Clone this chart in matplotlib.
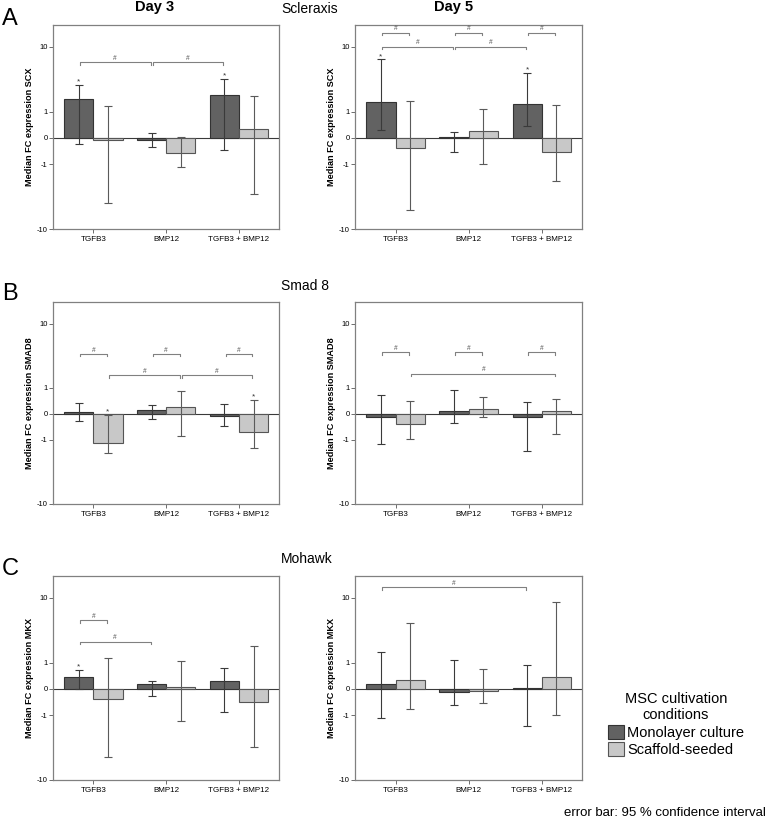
import numpy as np
import matplotlib
matplotlib.use('Agg')
import matplotlib.pyplot as plt
from matplotlib.patches import Patch

plt.rcParams['font.family'] = ['Liberation Sans', 'DejaVu Sans']

groups = ['TGFB3', 'BMP12', 'TGFB3 + BMP12']
series = ['Monolayer culture', 'Scaffold-seeded']
yticks = [-10, -1, 0, 1, 10]
ytick_labels = ['-10', '-1', '0', '1', '10']

# ---- Scleraxis (SCX) ----
scx_d3_mono = [1.8, -0.06, 2.06]
scx_d3_mono_ci = [(-0.18, 3.07), (-0.26, 0.14), (-0.39, 3.7)]
scx_d3_scaf = [-0.055, -0.48, 0.27]
scx_d3_scaf_ci = [(-4.6, 1.33), (-1.13, 0.02), (-3.41, 1.98)]
scx_d5_mono = [1.55, 0.01, 1.44]
scx_d5_mono_ci = [(0.24, 6.9), (-0.45, 0.16), (0.36, 4.57)]
scx_d5_scaf = [-0.30, 0.20, -0.46]
scx_d5_scaf_ci = [(-5.67, 1.66), (-0.99, 1.13), (-2.08, 1.38)]

# ---- Smad 8 (SMAD8) ----
smad8_d3_mono = [0.054, 0.11, -0.06]
smad8_d3_mono_ci = [(-0.22, 0.34), (-0.16, 0.27), (-0.40, 0.28)]
smad8_d3_scaf = [-1.15, 0.20, -0.62]
smad8_d3_scaf_ci = [(-1.86, -0.02), (-0.82, 0.81), (-1.48, 0.46)]
smad8_d5_mono = [-0.08, 0.07, -0.08]
smad8_d5_mono_ci = [(-1.25, 0.64), (-0.27, 0.89), (-1.69, 0.36)]
smad8_d5_scaf = [-0.30, 0.14, 0.08]
smad8_d5_scaf_ci = [(-0.94, 0.41), (-0.08, 0.55), (-0.70, 0.49)]

# ---- Mohawk (MKX) ----
mkx_d3_mono = [0.38, 0.14, 0.24]
mkx_d3_mono_ci = [(0.0, 0.64), (-0.22, 0.23), (-0.84, 0.73)]
mkx_d3_scaf = [-0.31, 0.06, -0.42]
mkx_d3_scaf_ci = [(-4.98, 1.25), (-1.35, 1.1), (-3.56, 2.08)]
mkx_d5_mono = [0.14, -0.08, 0.02]
mkx_d5_mono_ci = [(-1.14, 1.61), (-0.53, 1.14), (-1.66, 0.86)]
mkx_d5_scaf = [0.25, -0.06, 0.37]
mkx_d5_scaf_ci = [(-0.70, 4.62), (-0.46, 0.70), (-0.97, 8.74)]

# significance markers: (series, group)
scx_d3_stars = [(0, 0), (0, 2)]
scx_d5_stars = [(0, 0), (0, 2)]
smad8_d3_stars = [(1, 0), (1, 2)]
smad8_d5_stars = []
mkx_d3_stars = [(0, 0)]
mkx_d5_stars = []

# brackets: (series a, group a, series b, group b, height)
scx_d3_brackets = [(0, 0, 0, 1, 6.3), (0, 1, 0, 2, 6.3)]
scx_d5_brackets = [(0, 0, 1, 0, 15), (0, 1, 1, 1, 15), (0, 2, 1, 2, 15),
                   (0, 0, 0, 1, 10), (0, 1, 0, 2, 10)]
smad8_d3_brackets = [(0, 0, 1, 0, 3.9), (0, 1, 1, 1, 3.9), (0, 2, 1, 2, 3.9),
                     (1, 0, 1, 1, 1.78), (1, 1, 1, 2, 1.78)]
smad8_d5_brackets = [(0, 0, 1, 0, 4.1), (0, 1, 1, 1, 4.1), (0, 2, 1, 2, 4.1),
                     (1, 0, 1, 2, 1.9)]
mkx_d3_brackets = [(0, 0, 1, 0, 5.1), (0, 0, 0, 1, 2.45)]
mkx_d5_brackets = [(0, 0, 0, 2, 13.5)]


def fwd(v):
    v = np.asarray(v, dtype=float)
    return np.sign(v) * np.log10(1 + np.abs(v))


def inv(v):
    v = np.asarray(v, dtype=float)
    return np.sign(v) * (10 ** np.abs(v) - 1)


W, H = 768, 819
fig = plt.figure(figsize=(W / 100, H / 100), dpi=100)

MONO_C, SCAF_C = '#626262', '#c8c8c8'
GRAY = '#808080'
bw = 0.4
offs = [-0.2, 0.2]


def px_axes(x0, y0, x1, y1):
    return fig.add_axes([x0 / W, 1 - y1 / H, (x1 - x0) / W, (y1 - y0) / H])


def panel(ax, mono, mono_ci, scaf, scaf_ci, stars, brackets, ylabel):
    ax.set_yscale('function', functions=(fwd, inv))
    x = np.arange(len(groups))
    vals = [mono, scaf]
    cis = [mono_ci, scaf_ci]
    colors = [MONO_C, SCAF_C]
    edges = ['#333333', '#555555']
    ecols = ['#3a3a3a', '#5a5a5a']
    for s in range(2):
        v = np.array(vals[s])
        lo = np.array([c[0] for c in cis[s]])
        hi = np.array([c[1] for c in cis[s]])
        xs = x + offs[s]
        ax.bar(xs, v, width=bw, color=colors[s], edgecolor=edges[s],
               linewidth=0.8, zorder=2)
        ax.errorbar(xs, v, yerr=[v - lo, hi - v], fmt='none', ecolor=ecols[s],
                    elinewidth=0.8, capsize=2.6, capthick=0.8, zorder=3)
    ax.axhline(0, color='#3a3a3a', lw=0.8, zorder=1)
    for s, g in stars:
        hi = cis[s][g][1]
        ax.annotate('*', (g + offs[s], hi), xytext=(0, -0.5),
                    textcoords='offset points', ha='center', va='bottom',
                    fontsize=6, color='#333333')
    for sa, ga, sb, gb, h in brackets:
        xa = ga + offs[sa] + 0.015
        xb = gb + offs[sb] - 0.015
        hl = inv(fwd(h) - 0.028)
        ax.plot([xa, xa, xb, xb], [hl, h, h, hl], color=GRAY, lw=0.8,
                zorder=4, clip_on=False)
        ax.annotate('#', ((xa + xb) / 2, h), xytext=(0, 0.3),
                    textcoords='offset points', ha='center', va='bottom',
                    fontsize=4.8, color='#555555')
    ax.set_xlim(-0.555, 2.55)
    ax.set_ylim(-10, 18.5)
    ax.set_yticks(yticks)
    ax.set_yticklabels(ytick_labels)
    ax.yaxis.set_minor_locator(matplotlib.ticker.NullLocator())
    ax.set_xticks(x)
    ax.set_xticklabels(groups)
    ax.tick_params(axis='y', direction='out', length=3, width=0.6,
                   labelsize=5.5, pad=1, color='#555555')
    ax.tick_params(axis='x', direction='out', length=3, width=0.6,
                   labelsize=5.8, pad=2, color='#555555')
    for sp in ax.spines.values():
        sp.set_color(GRAY)
        sp.set_linewidth(0.9)
    ax.set_ylabel(ylabel, fontsize=6.6, fontweight='bold')
    ax.yaxis.set_label_coords(-0.085, 0.5)


LX = (53, 279)
RX = (355, 582)
rows = [(25, 229), (302, 504), (576, 780)]

panel(px_axes(LX[0], rows[0][0], LX[1], rows[0][1]), scx_d3_mono, scx_d3_mono_ci,
      scx_d3_scaf, scx_d3_scaf_ci, scx_d3_stars, scx_d3_brackets,
      'Median FC expression SCX')
panel(px_axes(RX[0], rows[0][0], RX[1], rows[0][1]), scx_d5_mono, scx_d5_mono_ci,
      scx_d5_scaf, scx_d5_scaf_ci, scx_d5_stars, scx_d5_brackets,
      'Median FC expression SCX')
panel(px_axes(LX[0], rows[1][0], LX[1], rows[1][1]), smad8_d3_mono, smad8_d3_mono_ci,
      smad8_d3_scaf, smad8_d3_scaf_ci, smad8_d3_stars, smad8_d3_brackets,
      'Median FC expression SMAD8')
panel(px_axes(RX[0], rows[1][0], RX[1], rows[1][1]), smad8_d5_mono, smad8_d5_mono_ci,
      smad8_d5_scaf, smad8_d5_scaf_ci, smad8_d5_stars, smad8_d5_brackets,
      'Median FC expression SMAD8')
panel(px_axes(LX[0], rows[2][0], LX[1], rows[2][1]), mkx_d3_mono, mkx_d3_mono_ci,
      mkx_d3_scaf, mkx_d3_scaf_ci, mkx_d3_stars, mkx_d3_brackets,
      'Median FC expression MKX')
panel(px_axes(RX[0], rows[2][0], RX[1], rows[2][1]), mkx_d5_mono, mkx_d5_mono_ci,
      mkx_d5_scaf, mkx_d5_scaf_ci, mkx_d5_stars, mkx_d5_brackets,
      'Median FC expression MKX')


def ftext(x, y, s, **kw):
    fig.text(x / W, 1 - y / H, s, **kw)


ftext(2, 25, 'A', fontsize=17, va='baseline', ha='left')
ftext(2, 300, 'B', fontsize=17, va='baseline', ha='left')
ftext(2, 575, 'C', fontsize=17, va='baseline', ha='left')
ftext(155, 11, 'Day 3', fontsize=10.5, fontweight='bold', va='baseline', ha='center')
ftext(454, 11, 'Day 5', fontsize=10.5, fontweight='bold', va='baseline', ha='center')
ftext(310, 13, 'Scleraxis', fontsize=10, va='baseline', ha='center')
ftext(305, 290, 'Smad 8', fontsize=10, va='baseline', ha='center')
ftext(307, 563, 'Mohawk', fontsize=10, va='baseline', ha='center')

handles = [Patch(facecolor=MONO_C, edgecolor='#333333', lw=0.8),
           Patch(facecolor=SCAF_C, edgecolor='#555555', lw=0.8)]
leg = fig.legend(handles, series, title='MSC cultivation\nconditions',
                 loc='upper center', bbox_to_anchor=(676 / W, 1 - 685 / H),
                 frameon=False, fontsize=10.5, title_fontsize=10.5,
                 handlelength=1.1, handleheight=1.1, handletextpad=0.2,
                 labelspacing=0.15, borderpad=0)
leg.get_title().set_multialignment('center')
ftext(766, 813, 'error bar: 95 % confidence interval', fontsize=9.5,
      va='center', ha='right')

fig.savefig('out.png', dpi=100)
